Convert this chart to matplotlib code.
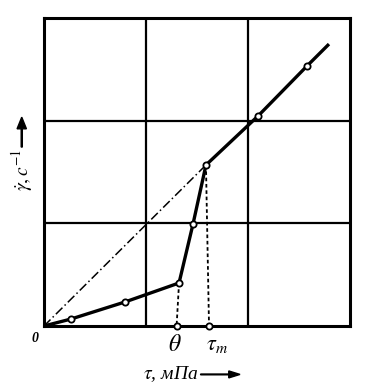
import matplotlib
matplotlib.use('Agg')
import matplotlib.pyplot as plt
import numpy as np

plt.rcParams['mathtext.fontset'] = 'stix'
plt.rcParams['font.family'] = ['Liberation Serif', 'DejaVu Serif']

# flow curve (grid cell = 1 unit)
tau = [0.0, 0.265, 0.794, 1.324, 1.461, 1.588, 2.098, 2.578, 2.794]
gamma = [0.0, 0.068, 0.234, 0.419, 0.993, 1.568, 2.045, 2.532, 2.746]
marked = [1, 2, 3, 4, 5, 6, 7]   # points drawn with open circles

theta_x = 1.30     # yield stress on the axis
tau_m_x = 1.618

fig = plt.figure(figsize=(3.75, 3.88), dpi=100)
ax = fig.add_axes([0.1173, 0.1598, 0.816, 0.7938])
ax.set_xlim(0, 3)
ax.set_ylim(0, 3)

for v in [1, 2]:
    ax.axvline(v, color='black', lw=1.6, zorder=1)
    ax.axhline(v, color='black', lw=1.6, zorder=1)
for s in ax.spines.values():
    s.set_linewidth(2.2)
ax.set_xticks([])
ax.set_yticks([])

# dash-dot secant from origin to tau_m point
ax.plot([0, tau[5]], [0, gamma[5]], color='black', lw=1.1, ls=(0, (6, 2, 1, 2)), zorder=2)
# dashed drop lines
ax.plot([tau[3], theta_x], [gamma[3], 0], color='black', lw=1.3, ls=(0, (2, 1.5)), zorder=2)
ax.plot([tau[5], tau_m_x], [gamma[5], 0], color='black', lw=1.3, ls=(0, (2, 1.5)), zorder=2)

ax.plot(tau, gamma, color='black', lw=2.4, zorder=3, solid_capstyle='butt')
ax.plot([tau[i] for i in marked], [gamma[i] for i in marked], 'o', ms=4.5,
        mfc='white', mec='black', mew=1.3, zorder=4)
ax.plot([theta_x, tau_m_x], [0, 0], 'o', ms=4.5, mfc='white', mec='black',
        mew=1.3, zorder=4, clip_on=False)

ax.text(-0.09, -0.12, '0', fontsize=10, fontstyle='italic', fontweight='bold',
        ha='center', va='center')
ax.text(theta_x - 0.02, -0.19, r'$\theta$', fontsize=17, ha='center', va='center')
ax.text(tau_m_x + 0.08, -0.19, r'$\tau_m$', fontsize=16, ha='center', va='center')

fig.text(0.456, 0.035, r'$\tau$, мПа', fontsize=14, fontstyle='italic',
         ha='center', va='center')
fig.text(0.058, 0.562, r'$\dot{\gamma}, c^{-1}$', fontsize=14, rotation=90,
         ha='center', va='center')
fig.patches.append(matplotlib.patches.FancyArrow(0.535, 0.035, 0.105, 0, width=0.002,
                   head_width=0.018, head_length=0.03, color='black',
                   transform=fig.transFigure, length_includes_head=True))
fig.patches.append(matplotlib.patches.FancyArrow(0.058, 0.621, 0, 0.077, width=0.003,
                   head_width=0.025, head_length=0.03, color='black',
                   transform=fig.transFigure, length_includes_head=True))

fig.savefig('out.png', dpi=100)
